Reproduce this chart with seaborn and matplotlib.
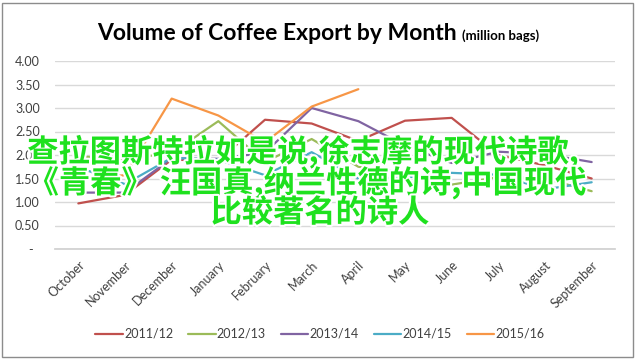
import numpy as np
import pandas as pd
import matplotlib
matplotlib.use("Agg")
from matplotlib import pyplot as plt
import matplotlib.patheffects as pe
from matplotlib.patches import Rectangle
from matplotlib.ticker import FuncFormatter
import seaborn as sns

months = ["October", "November", "December", "January", "February", "March",
          "April", "May", "June", "July", "August", "September"]
seasons = ["2011/12", "2012/13", "2013/14", "2014/15", "2015/16"]

v2011_12 = [0.97, 1.15, 1.90, 1.88, 2.75, 2.67, 2.30, 2.73, 2.79, 2.00, 1.78, 1.50]
v2012_13 = [1.97, 1.92, 2.04, 2.72, 1.85, 2.34, 1.75, 1.62, 1.37, 1.53, 1.50, 1.23]
v2013_14 = [1.20, 1.20, 1.93, 1.92, 2.05, 3.00, 2.72, 2.20, 1.83, 2.07, 2.02, 1.85]
v2014_15 = [1.74, 1.38, 1.94, 1.90, 1.57, 2.06, 1.50, 1.52, 1.62, 1.58, 1.27, 1.42]
v2015_16 = [1.50, 1.57, 3.20, 2.84, 2.27, 3.03, 3.40, np.nan, np.nan, np.nan, np.nan, np.nan]

colors = ["#C0504D", "#9BBB59", "#8064A2", "#4BACC6", "#F79646"]

overlay_lines = ["查拉图斯特拉如是说,徐志摩的现代诗歌,",
                 "《青春》 汪国真,纳兰性德的诗,中国现代",
                 "比较著名的诗人"]

rows = []
for season, vals in zip(seasons, [v2011_12, v2012_13, v2013_14, v2014_15, v2015_16]):
    for m, v in zip(months, vals):
        rows.append({"Month": m, "Season": season, "Volume": v})
df = pd.DataFrame(rows)

sns.set_theme(style="white")
plt.rcParams["font.family"] = ["Lato", "DejaVu Sans"]

W, H = 637, 360
fig = plt.figure(figsize=(W / 100, H / 100), dpi=100)
ax = fig.add_axes([55 / W, 1 - 249 / H, 560 / W, 188 / H])

sns.lineplot(data=df, x="Month", y="Volume", hue="Season", hue_order=seasons,
             palette=colors, sort=False, linewidth=1.6, ax=ax)

ax.set_xlim(-0.5, 11.5)
ax.set_ylim(0, 4)
ax.set_yticks(np.arange(0, 4.01, 0.5))
ax.yaxis.set_major_formatter(FuncFormatter(lambda v, _: "-  " if v == 0 else f"{v:.2f}"))
ax.yaxis.grid(True, color="#D9D9D9", linewidth=1)
ax.xaxis.grid(False)
for side in ["left", "right", "top"]:
    ax.spines[side].set_visible(False)
ax.spines["bottom"].set_color("#D0D0D0")
ax.set_xlabel("")
ax.set_ylabel("")
ax.tick_params(axis="y", length=0, pad=11, labelsize=9, labelcolor="#404040")
ax.tick_params(axis="x", length=0, pad=7, labelsize=9, labelcolor="#404040")
plt.setp(ax.get_xticklabels(), rotation=45, ha="right", rotation_mode="anchor")

handles, labels = ax.get_legend_handles_labels()
ax.get_legend().remove()
fig.legend(handles, labels, loc="center", bbox_to_anchor=(320 / W, 1 - 334 / H),
           ncol=5, frameon=False, fontsize=9, handlelength=2.2,
           handletextpad=0.1, columnspacing=1.2, labelcolor="#404040")

# title
fig.text(457 / W, 1 - 40 / H, "Volume of Coffee Export by Month", ha="right",
         va="baseline", fontsize=16.5, fontweight="bold", color="black")
fig.text(462 / W, 1 - 40 / H, "(million bags)", ha="left", va="baseline",
         fontsize=9.5, fontweight="bold", color="black")

# green overlay text
stroke = [pe.withStroke(linewidth=3, foreground="white")]
for txt, cx, cy in zip(overlay_lines, [303, 307, 320], [152, 183, 213]):
    fig.text(cx / W, 1 - cy / H, txt, ha="center", va="center",
             family=["Noto Sans CJK SC", "DejaVu Sans"], fontsize=22.5,
             fontweight="bold", color="#1EE11E", path_effects=stroke)

fig.patches.append(Rectangle((2 / W, 3 / H), 631 / W, 354 / H, transform=fig.transFigure,
                             fill=False, edgecolor="#8C8C8C", linewidth=1))

fig.savefig("out.png", dpi=100)
